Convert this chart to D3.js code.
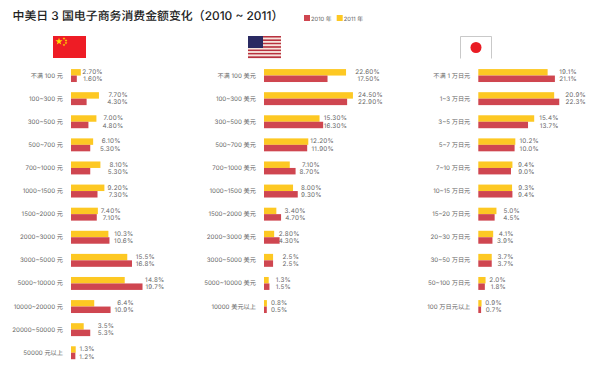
<!DOCTYPE html>
<html>
<head>
<meta charset="utf-8">
<script src="https://cdn.jsdelivr.net/npm/d3@7"></script>
<style>
  body { margin: 0; background: #fff; }
  text { font-family: Inter, "Noto Sans CJK SC", sans-serif; text-rendering: geometricPrecision; }
</style>
</head>
<body>
<div class="graph"></div>
<script>
'use strict'

const cnCategories = ['不满 100 元', '100~300 元', '300~500 元', '500~700 元', '700~1000 元', '1000~1500 元', '1500~2000 元', '2000~3000 元', '3000~5000 元', '5000~10000 元', '10000~20000 元', '20000~50000 元', '50000 元以上']
const cn2011 = [2.7, 7.7, 7.0, 6.1, 8.1, 9.2, 7.4, 10.3, 15.5, 14.8, 6.4, 3.5, 1.3]
const cn2010 = [1.6, 4.3, 4.8, 5.3, 5.3, 7.3, 7.1, 10.6, 16.8, 19.7, 10.9, 5.3, 1.2]

const usCategories = ['不满 100 美元', '100~300 美元', '300~500 美元', '500~700 美元', '700~1000 美元', '1000~1500 美元', '1500~2000 美元', '2000~3000 美元', '3000~5000 美元', '5000~10000 美元', '10000 美元以上']
const us2011 = [22.6, 24.5, 15.3, 12.2, 7.1, 8.0, 3.4, 2.8, 2.5, 1.3, 0.8]
const us2010 = [17.5, 22.9, 16.3, 11.9, 8.7, 9.3, 4.7, 4.3, 2.5, 1.5, 0.5]

const jpCategories = ['不满 1 万日元', '1~3 万日元', '3~5 万日元', '5~7 万日元', '7~10 万日元', '10~15 万日元', '15~20 万日元', '20~30 万日元', '30~50 万日元', '50~100 万日元', '100 万日元以上']
const jp2011 = [19.1, 20.9, 15.4, 10.2, 9.4, 9.3, 5.0, 4.1, 3.7, 2.0, 0.9]
const jp2010 = [21.1, 22.3, 13.7, 10.0, 9.0, 9.4, 4.5, 3.9, 3.7, 1.8, 0.7]

const seriesNames = ['2010 年', '2011 年']

// distance from the longer bar to the right edge of the labels, row by row
const cnLabelGaps = [22, 29, 27, 27.5, 28, 24, 23, 24, 23, 22, 23.4, 24, 19]
const usLabelGaps = [34, 30, 24, 25.7, 24.4, 24, 24.6, 20, 26, 21.6, 20.6]
const jpLabelGaps = [22, 26.8, 24.5, 23.7, 22.3, 22.3, 23.5, 20.5, 22, 20.4, 20.4]

const red = '#cf4650'
const yellow = '#fdc823'
const textColor = '#666'

const svg = d3.select('.graph').append('svg')
  .attr('width', 600)
  .attr('height', 372)
  .style('display', 'block')

svg.append('text')
  .attr('x', 12.5)
  .attr('y', 20)
  .attr('font-size', 11.9)
  .attr('font-weight', 500)
  .attr('fill', '#222')
  .text('中美日 3 国电子商务消费金额变化（2010 ~ 2011）')

// legend
seriesNames.forEach(function (name, i) {
  const g = svg.append('g').attr('transform', 'translate(' + (304 + i * 32.7) + ',15)')
  g.append('rect').attr('width', 6).attr('height', 6).attr('fill', i === 0 ? red : yellow)
  g.append('text').attr('x', 7).attr('y', 5.5)
    .attr('font-size', 5.8).attr('fill', textColor).text(name)
})

// one step per row, same for the three panels
const rowStep = 23.1
const xScale = d3.scaleLinear().domain([0, 10]).range([0, 36.3])

function panel (left, categories, v2011, v2010, twoDecimals, gaps) {
  const g = svg.append('g').attr('transform', 'translate(' + left + ',0)')

  const y = d3.scaleBand()
    .domain(categories)
    .range([64, 64 + rowStep * categories.length])
    .paddingInner(0.44)
    .paddingOuter(0.22)

  const axis = g.append('g')
    .call(d3.axisLeft(y).tickSize(0).tickPadding(8))
  axis.select('.domain').remove()
  axis.selectAll('text')
    .attr('font-size', 6.2)
    .attr('fill', textColor)
    .style('font-family', 'Inter, "Noto Sans CJK SC", sans-serif')

  const barHeight = y.bandwidth() / 2
  const series = [
    { values: v2011, color: yellow, offset: 0, labelShift: -3.6 },
    { values: v2010, color: red, offset: barHeight, labelShift: 3.6 }
  ]

  series.forEach(function (s) {
    g.append('g').selectAll('rect')
      .data(s.values)
      .enter().append('rect')
      .attr('x', 0)
      .attr('y', function (d, i) { return y(categories[i]) + s.offset })
      .attr('width', function (d) { return Math.max(xScale(d), 2.8) })
      .attr('height', barHeight)
      .attr('fill', s.color)

    g.append('g').selectAll('text')
      .data(s.values)
      .enter().append('text')
      .attr('x', function (d, i) { return xScale(Math.max(v2011[i], v2010[i])) + gaps[i] })
      .attr('y', function (d, i) { return y(categories[i]) + barHeight + s.labelShift + 2.2 })
      .attr('text-anchor', 'end')
      .attr('font-size', 6.3)
      .attr('letter-spacing', 0.25)
      .attr('fill', textColor)
      .text(function (d, i) { return d.toFixed(i < twoDecimals ? 2 : 1) + '%' })
  })
}

panel(71, cnCategories, cn2011, cn2010, 7, cnLabelGaps)
panel(264, usCategories, us2011, us2010, 8, usLabelGaps)
panel(478.3, jpCategories, jp2011, jp2010, 0, jpLabelGaps)

// flags
const cnFlag = svg.append('g').attr('transform', 'translate(53,36)')
cnFlag.append('rect').attr('width', 33).attr('height', 22).attr('fill', '#ee1c25')
const star = d3.symbol().type(d3.symbolStar)
cnFlag.append('path').attr('d', star.size(16)()).attr('transform', 'translate(6,5.5)').attr('fill', '#ffde00')
;[[11, 2.5], [13, 4.5], [13, 7], [11, 9]].forEach(function (p) {
  cnFlag.append('path').attr('d', star.size(2.5)())
    .attr('transform', 'translate(' + p[0] + ',' + p[1] + ')').attr('fill', '#ffde00')
})

const usFlag = svg.append('g').attr('transform', 'translate(248,36)')
d3.range(13).forEach(function (i) {
  usFlag.append('rect').attr('y', i * 22 / 13).attr('width', 33).attr('height', 22 / 13 + 0.1)
    .attr('fill', i % 2 === 0 ? '#b8323f' : '#f7e4dc')
})
usFlag.append('rect').attr('width', 15).attr('height', 12).attr('fill', '#2a2a62')

const jpFlag = svg.append('g').attr('transform', 'translate(460.5,36.5)')
jpFlag.append('path').attr('d', 'M0,22V0H31V22').attr('fill', '#fff').attr('stroke', '#bbb').attr('stroke-width', 0.8)
jpFlag.append('circle').attr('cx', 15.5).attr('cy', 11).attr('r', 5.5).attr('fill', '#e91c24')
</script>
</body>
</html>
